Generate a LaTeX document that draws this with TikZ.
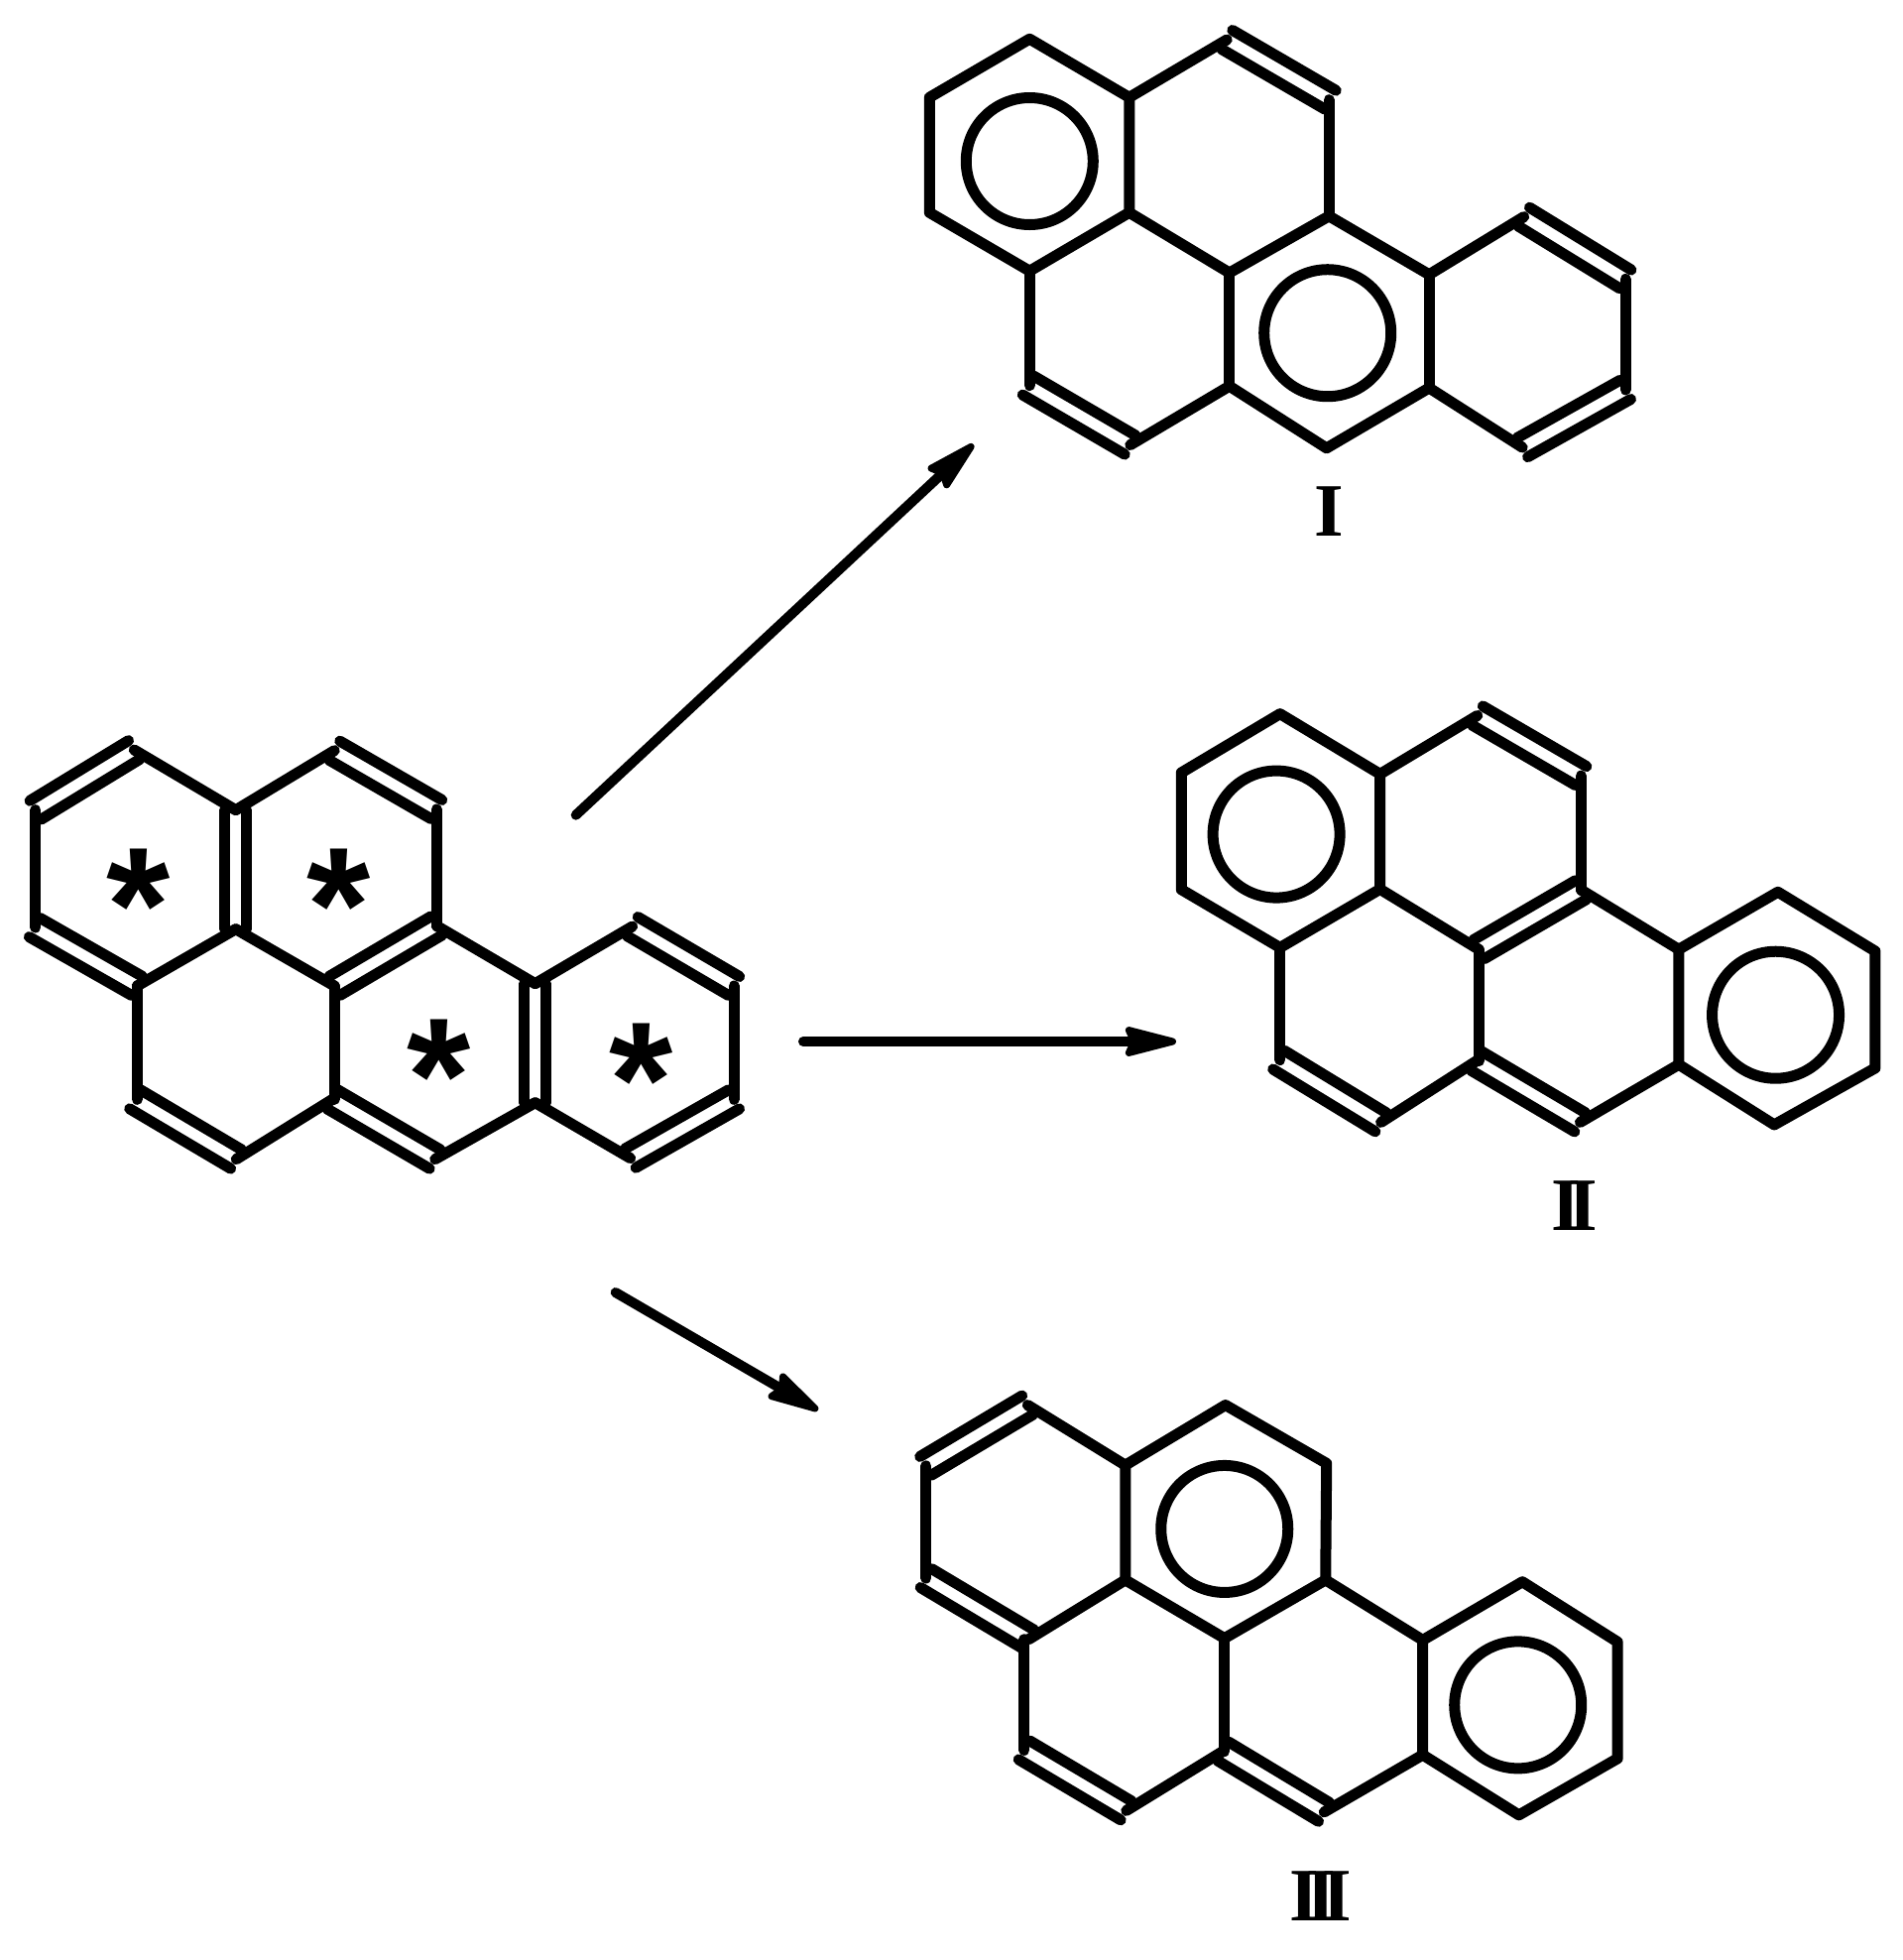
\documentclass[tikz,border=0pt]{standalone}
\usepackage{fontspec}
\setmainfont{Liberation Serif}
\newfontfamily\starfont{Liberation Sans}
\usetikzlibrary{calc,arrows.meta}
\newcommand\dblhalf{11pt}
\newcommand\dblbond[2]{%
  \draw[bond] ($(#1)!\dblhalf!90:(#2)$) -- ($(#2)!\dblhalf!-90:(#1)$);
  \draw[bond] ($(#1)!\dblhalf!-90:(#2)$) -- ($(#2)!\dblhalf!90:(#1)$);}
\tikzset{
  bond/.style={line width=11pt,line cap=round,line join=round,black},
  arene/.style={line width=11pt,black},
  reaction/.style={line width=10pt,line cap=round,black,
    -{Stealth[length=64pt,width=32pt,inset=7pt,line width=7pt,round]}},
  starmark/.style={inner sep=0pt,anchor=base,font=\starfont\bfseries\fontsize{165}{165}\selectfont},
  numeral/.style={inner sep=0pt,anchor=center,font=\bfseries\fontsize{76}{76}\selectfont},
}
\begin{document}
\begin{tikzpicture}[x=1pt,y=-1pt]
\useasboundingbox (0,0) rectangle (1919,1976);

% ---- starting molecule
\begin{scope}[shift={(0,720)},xscale=.4974,yscale=.33333]
  \coordinate (a1) at (72,290);  \coordinate (a2) at (272,108); \coordinate (a3) at (478,290);
  \coordinate (a4) at (478,650); \coordinate (a5) at (278,822); \coordinate (a6) at (70,645);
  \coordinate (b1) at (678,110); \coordinate (b2) at (885,288); \coordinate (b3) at (885,640);
  \coordinate (c0) at (678,822);
  \coordinate (d1) at (1085,815);\coordinate (d2) at (1085,1175);\coordinate (d3) at (882,1346);
  \coordinate (d4) at (674,1165);
  \coordinate (e1) at (274,1165);\coordinate (e2) at (479,1346);
  \coordinate (f1) at (1282,642);\coordinate (f2) at (1488,822);\coordinate (f3) at (1488,1165);
  \coordinate (f4) at (1278,1343);
  \coordinate (st1) at (280,486); \coordinate (st2) at (686,486);
  \coordinate (st3) at (890,1002);\coordinate (st4) at (1300,1014);
\end{scope}
\foreach \p/\q in {a2/a3,a4/a5,a3/b1,c0/a4,b3/d1,e2/d4,d3/d2,d1/f1,f4/d2}
  {\draw[bond] (\p) -- (\q);}
\foreach \p/\q in {a1/a6,a5/e1,c0/d4,b2/b3,f2/f3}
  {\draw[bond] (\p) -- (\p |- \q);}
\foreach \p/\q in {a1/a2,a3/a4,a5/a6,b1/b2,b3/c0,d1/d2,d3/d4,e1/e2,f1/f2,f3/f4}
  {\dblbond{\p}{\q}}
\foreach \s in {st1,st2,st3,st4}
  {\node[starmark] (lab\s) at ($(\s)+(0,87)$) {*};}

% ---- product I
\begin{scope}[shift={(900,0)},xscale=.4974,yscale=.35714]
  \coordinate (g1) at (75,275);  \coordinate (g2) at (278,110); \coordinate (g3) at (480,275);
  \coordinate (g4) at (480,600); \coordinate (g5) at (278,765); \coordinate (g6) at (75,600);
  \coordinate (h1) at (678,112); \coordinate (h2) at (888,282); \coordinate (h3) at (885,610);
  \coordinate (h4) at (683,770);
  \coordinate (j1) at (1088,775);\coordinate (j2) at (1088,1095);\coordinate (j3) at (880,1265);
  \coordinate (j4) at (683,1090);
  \coordinate (k1) at (275,1088);\coordinate (k2) at (482,1256);
  \coordinate (l1) at (1280,612);\coordinate (l2) at (1486,788);\coordinate (l3) at (1486,1100);
  \coordinate (l4) at (1277,1263);
  \coordinate (ci1) at (278,455); \coordinate (ci2) at (882,940);
  \node[numeral] (labI) at (886,1445) {I};
\end{scope}
\draw[bond] (g1) -- (g2) -- (g3) -- (g4) -- (g5) -- (g6) -- cycle;
\foreach \p/\q in {g3/h1,g4/h4,h3/h4,k2/j4,j4/j3,j3/j2,j2/j1,j1/h3,j1/l1,l4/j2}
  {\draw[bond] (\p) -- (\q);}
\foreach \p/\q in {h3/h2,g5/k1,h4/j4,l2/l3}
  {\draw[bond] (\p) -- (\p |- \q);}
\foreach \p/\q in {h1/h2,k1/k2,l1/l2,l3/l4}
  {\dblbond{\p}{\q}}
\draw[arene] (ci1) circle[radius=64];
\draw[arene] (ci2) circle[radius=64];

% ---- product II
\begin{scope}[shift={(1200,700)},xscale=.4585,yscale=.35714]
  \coordinate (n1) at (-19,221); \coordinate (n2) at (198,55);  \coordinate (n3) at (418,225);
  \coordinate (n4) at (418,550); \coordinate (n5) at (198,715); \coordinate (n6) at (-19,551);
  \coordinate (o1) at (632,60);  \coordinate (o2) at (860,230); \coordinate (o3) at (860,552);
  \coordinate (o4) at (635,720);
  \coordinate (p1) at (1075,720);\coordinate (p2) at (1075,1045);\coordinate (p3) at (858,1208);
  \coordinate (p4) at (630,1035);
  \coordinate (q1) at (195,1032);\coordinate (q2) at (420,1208);
  \coordinate (r1) at (1293,558);\coordinate (r2) at (1507,725);\coordinate (r3) at (1507,1055);
  \coordinate (r4) at (1285,1215);
  \coordinate (ci3) at (190,395); \coordinate (ci4) at (1288,905);
  \node[numeral] (labII) at (845,1445) {I\kern-.17em I};
\end{scope}
\draw[bond] (n1) -- (n2) -- (n3) -- (n4) -- (n5) -- (n6) -- cycle;
\draw[bond] (p1) -- (r1) -- (r2) -- (r3) -- (r4) -- (p2) -- cycle;
\foreach \p/\q in {n3/o1,n4/o4,o3/p1,q2/p4,p3/p2}
  {\draw[bond] (\p) -- (\q);}
\foreach \p/\q in {o3/o2,o4/p4,n5/q1}
  {\draw[bond] (\p) -- (\p |- \q);}
\foreach \p/\q in {o1/o2,o3/o4,p3/p4,q1/q2}
  {\dblbond{\p}{\q}}
\draw[arene] (ci3) circle[radius=64];
\draw[arene] (ci4) circle[radius=64];

% ---- product III
\begin{scope}[shift={(900,1400)},xscale=.4974,yscale=.36735]
  \coordinate (s1) at (67,212);  \coordinate (s2) at (274,45);  \coordinate (s3) at (472,210);
  \coordinate (s4) at (472,525); \coordinate (s5) at (276,688); \coordinate (s6) at (68,520);
  \coordinate (t1) at (675,45);  \coordinate (t2) at (880,205); \coordinate (t3) at (878,525);
  \coordinate (t4) at (673,685);
  \coordinate (u1) at (1075,690);\coordinate (u2) at (1075,1005);\coordinate (u3) at (875,1162);
  \coordinate (u4) at (670,995);
  \coordinate (v1) at (267,992); \coordinate (v2) at (474,1158);
  \coordinate (w1) at (1277,530);\coordinate (w2) at (1470,695);\coordinate (w3) at (1470,1015);
  \coordinate (w4) at (1270,1170);
  \coordinate (ci5) at (673,385); \coordinate (ci6) at (1268,868);
  \node[numeral] (labIII) at (868,1393) {I\kern-.17em I\kern-.17em I};
\end{scope}
\draw[bond] (s3) -- (t1) -- (t2) -- (t3) -- (t4) -- (s4) -- cycle;
\draw[bond] (u1) -- (w1) -- (w2) -- (w3) -- (w4) -- (u2) -- cycle;
\foreach \p/\q in {s2/s3,s4/s5,v2/u4,t3/u1,u3/u2}
  {\draw[bond] (\p) -- (\q);}
\foreach \p/\q in {s6/s1,v1/s5,t4/u4}
  {\draw[bond] (\p) -- (\p |- \q);}
\foreach \p/\q in {s1/s2,s5/s6,u3/u4,v1/v2}
  {\dblbond{\p}{\q}}
\draw[arene] (ci5) circle[radius=64];
\draw[arene] (ci6) circle[radius=64];

% ---- reaction arrows
\coordinate (ar1s) at (580.7,821.7); \coordinate (ar1e) at (981.7,448);
\coordinate (ar2s) at (810,1050);    \coordinate (ar2e) at (1186,1050);
\coordinate (ar3s) at (620.7,1303);  \coordinate (ar3e) at (825,1421.7);
\draw[reaction] (ar1s) -- (ar1e);
\draw[reaction] (ar2s) -- (ar2e);
\draw[reaction] (ar3s) -- (ar3e);
\end{tikzpicture}
\end{document}
